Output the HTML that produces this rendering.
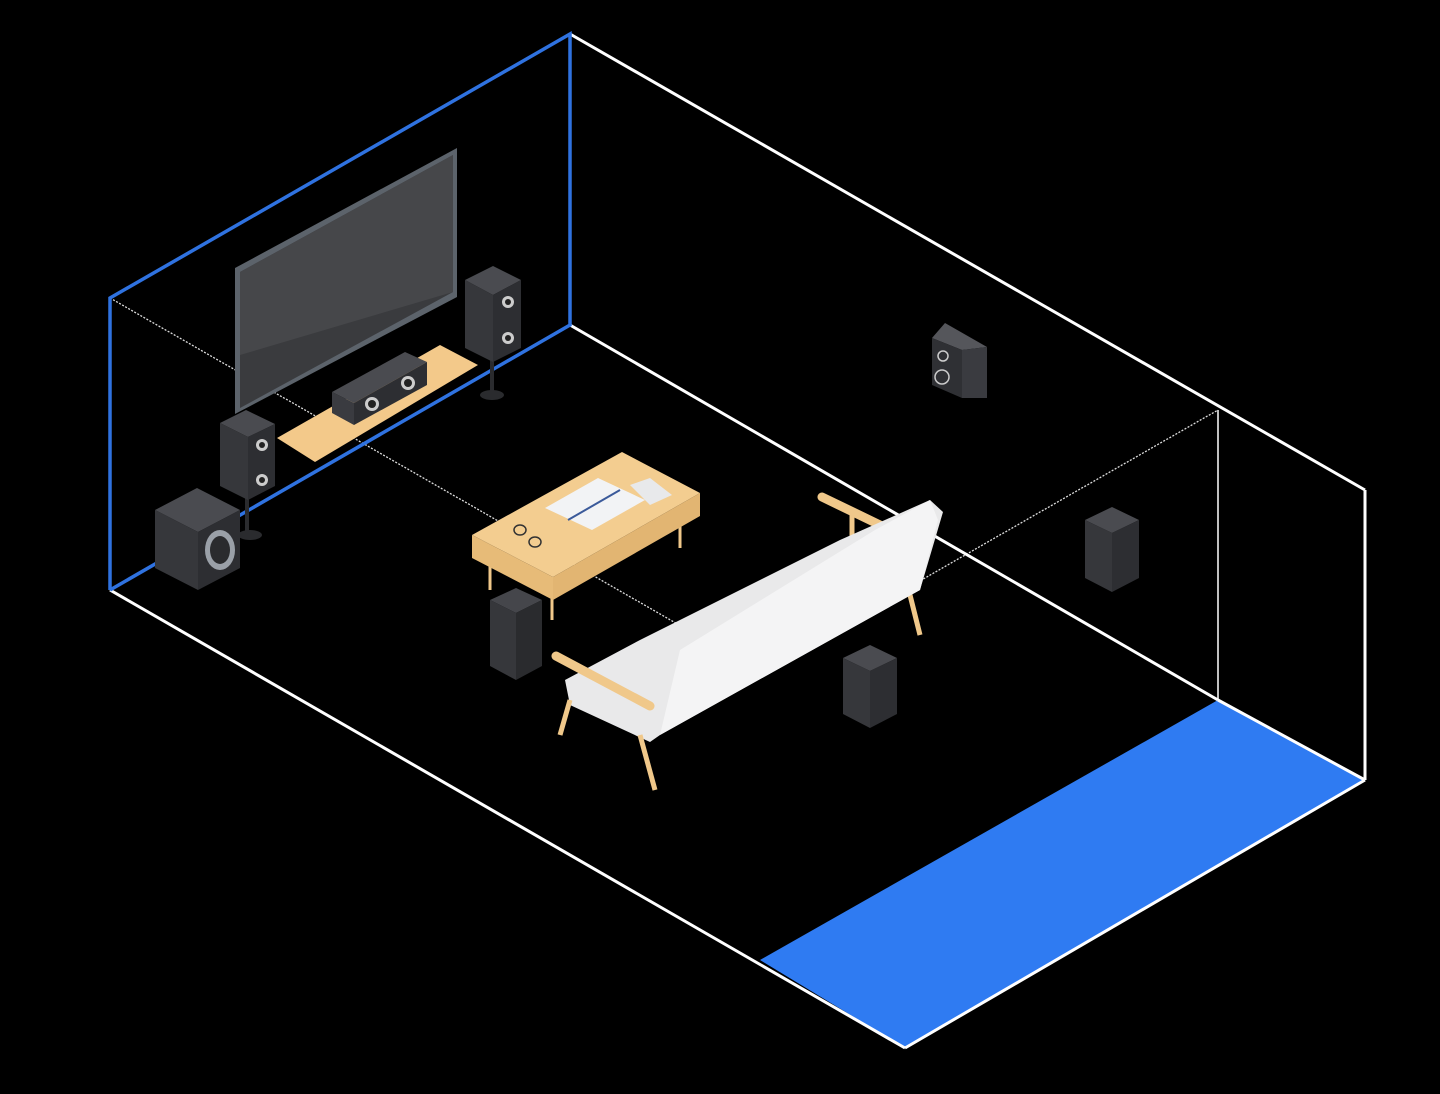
<!DOCTYPE html>
<html><head><meta charset="utf-8"><style>html,body{margin:0;padding:0;background:#000;}svg{display:block}</style></head>
<body>
<svg width="1440" height="1094" viewBox="0 0 1440 1094" xmlns="http://www.w3.org/2000/svg">
<rect width="1440" height="1094" fill="#000"/>
<polygon points="760,960 1218,700 1365,780 905,1048" fill="#2f7bf2"/>
<polyline points="110,298 761,672 1218,410" fill="none" stroke="#ddd" stroke-width="1.3" stroke-dasharray="2,1.5"/>
<g stroke="#fff" stroke-width="3" fill="none">
<line x1="570" y1="34" x2="1365" y2="490"/>
<line x1="1365" y1="490" x2="1365" y2="780"/>
<line x1="1365" y1="780" x2="905" y2="1048"/>
<line x1="905" y1="1048" x2="110" y2="590"/>
<line x1="570" y1="325" x2="1218" y2="700"/>
<line x1="1218" y1="700" x2="1365" y2="780"/>
</g>
<line x1="1218" y1="410" x2="1218" y2="700" stroke="#fff" stroke-width="1.5"/>
<g stroke="#2f72e0" stroke-width="3.5" fill="none">
<polyline points="110,590 110,298 570,34 570,325 110,590"/>
</g>
<polygon points="235,268 457,148 457,297 235,414" fill="#5c636b"/>
<polygon points="240,272 453,155 453,292 240,408" fill="#3a3b3e"/>
<polygon points="240,272 453,155 453,292 240,355" fill="#46474a"/>
<polygon points="277,438 440,345 478,365 315,462" fill="#f3c98a"/>
<polygon points="332,392 405,352 427,362 354,403" fill="#4a4b50"/>
<polygon points="354,403 427,362 427,385 354,425" fill="#2d2e32"/>
<polygon points="332,392 354,403 354,425 332,413" fill="#3a3b40"/>
<circle cx="372" cy="404" r="7" fill="#ccc"/><circle cx="372" cy="404" r="4" fill="#222"/>
<circle cx="408" cy="383" r="7" fill="#ccc"/><circle cx="408" cy="383" r="4" fill="#222"/>
<line x1="492" y1="350" x2="492" y2="395" stroke="#2a2b2e" stroke-width="4"/>
<ellipse cx="492" cy="395" rx="12" ry="5" fill="#2a2b2e"/>
<polygon points="465,280 493,266 521,280 493,295" fill="#4a4b50"/>
<polygon points="465,280 493,295 493,362 465,348" fill="#36373b"/>
<polygon points="493,295 521,280 521,348 493,362" fill="#2d2e32"/>
<circle cx="508" cy="302" r="6" fill="#ccc"/><circle cx="508" cy="302" r="3" fill="#222"/>
<circle cx="508" cy="338" r="6" fill="#ccc"/><circle cx="508" cy="338" r="3" fill="#222"/>
<line x1="247" y1="480" x2="247" y2="535" stroke="#2a2b2e" stroke-width="4"/>
<ellipse cx="250" cy="535" rx="12" ry="5" fill="#2a2b2e"/>
<polygon points="220,423 246,410 275,424 248,437" fill="#4a4b50"/>
<polygon points="220,423 248,437 248,500 220,486" fill="#36373b"/>
<polygon points="248,437 275,424 275,486 248,500" fill="#2d2e32"/>
<circle cx="262" cy="445" r="6" fill="#ccc"/><circle cx="262" cy="445" r="3" fill="#222"/>
<circle cx="262" cy="480" r="6" fill="#ccc"/><circle cx="262" cy="480" r="3" fill="#222"/>
<polygon points="155,510 197,488 240,510 198,532" fill="#4a4b50"/>
<polygon points="155,510 198,532 198,590 155,568" fill="#36373b"/>
<polygon points="198,532 240,510 240,568 198,590" fill="#2d2e32"/>
<ellipse cx="220" cy="550" rx="15" ry="20" fill="#9aa0a8"/>
<ellipse cx="220" cy="550" rx="10" ry="14" fill="#2a2b2e"/>
<polygon points="490,600 516,588 542,600 516,613" fill="#45464b"/>
<polygon points="490,600 516,613 516,680 490,666" fill="#36373b"/>
<polygon points="516,613 542,600 542,666 516,680" fill="#2a2b2e"/>
<line x1="490" y1="565" x2="490" y2="590" stroke="#f0c88a" stroke-width="3"/>
<line x1="552" y1="595" x2="552" y2="620" stroke="#f0c88a" stroke-width="3"/>
<line x1="680" y1="515" x2="680" y2="548" stroke="#f0c88a" stroke-width="3"/>
<polygon points="472,535 622,452 700,493 553,577" fill="#f3cd90"/>
<polygon points="472,535 553,577 553,600 472,558" fill="#e7bb78"/>
<polygon points="553,577 700,493 700,516 553,600" fill="#e2b572"/>
<polygon points="545,508 598,478 645,500 592,530" fill="#f2f3f5"/>
<line x1="568" y1="520" x2="620" y2="490" stroke="#3b5a9a" stroke-width="2"/>
<polygon points="630,485 650,478 672,495 650,505" fill="#e8e9eb"/>
<ellipse cx="520" cy="530" rx="6" ry="5" fill="none" stroke="#333" stroke-width="1.5"/>
<ellipse cx="535" cy="542" rx="6" ry="5" fill="none" stroke="#333" stroke-width="1.5"/>
<line x1="822" y1="497" x2="880" y2="525" stroke="#f0c88a" stroke-width="9" stroke-linecap="round"/>
<line x1="852" y1="515" x2="852" y2="540" stroke="#f0c88a" stroke-width="5"/>
<line x1="905" y1="575" x2="920" y2="635" stroke="#f0c88a" stroke-width="5"/>
<polygon points="565,680 640,640 840,540 930,500 943,512 920,590 660,735 650,742 570,705" fill="#e9e9ea"/>
<polygon points="660,735 920,590 938,520 930,500 875,530 680,650" fill="#f4f4f5"/>
<line x1="570" y1="700" x2="560" y2="735" stroke="#f0c88a" stroke-width="5"/>
<line x1="640" y1="735" x2="655" y2="790" stroke="#f0c88a" stroke-width="5"/>
<line x1="556" y1="656" x2="650" y2="706" stroke="#f0c88a" stroke-width="9" stroke-linecap="round"/>
<polygon points="843,658 870,645 897,658 870,671" fill="#4a4b50"/>
<polygon points="843,658 870,671 870,728 843,714" fill="#36373b"/>
<polygon points="870,671 897,658 897,714 870,728" fill="#2d2e32"/>
<polygon points="1085,520 1112,507 1139,520 1112,533" fill="#4a4b50"/>
<polygon points="1085,520 1112,533 1112,592 1085,578" fill="#36373b"/>
<polygon points="1112,533 1139,520 1139,578 1112,592" fill="#2d2e32"/>
<polygon points="932,338 945,323 987,347 962,350" fill="#55565b"/>
<polygon points="932,338 962,350 962,398 932,385" fill="#2f3034"/>
<polygon points="962,350 987,347 987,398 962,398" fill="#3a3b40"/>
<circle cx="943" cy="356" r="5" fill="none" stroke="#ccc" stroke-width="1.5"/>
<circle cx="942" cy="377" r="7" fill="none" stroke="#ccc" stroke-width="1.5"/>
</svg>
</body></html>
